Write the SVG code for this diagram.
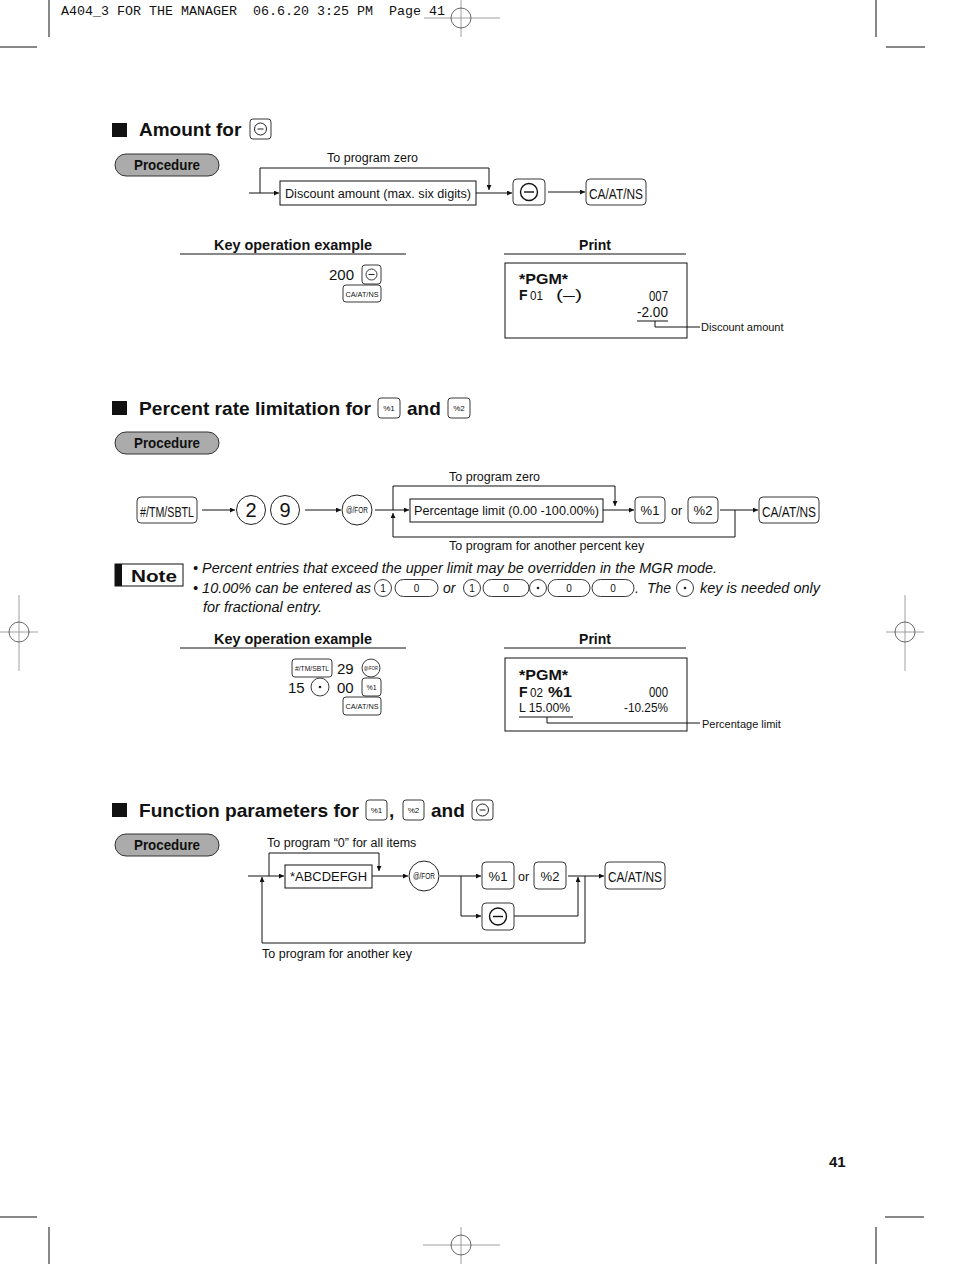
<svg xmlns="http://www.w3.org/2000/svg" width="954" height="1264" viewBox="0 0 954 1264">
<style>
text{font-family:"Liberation Sans",Arial,sans-serif;fill:#111}
.t{font-size:12.5px}
.h{font-size:19px;font-weight:bold}
.b{font-size:14px;font-weight:bold}
.it{font-size:14px;font-style:italic}
.k{fill:#fff;stroke:#222;stroke-width:0.9}
.ln{fill:none;stroke:#111;stroke-width:1}
.bx{fill:#fff;stroke:#111;stroke-width:1}
.pill{fill:#ababab;stroke:#333;stroke-width:1}
.reg{stroke:#888;stroke-width:0.8;fill:none}
.regc{stroke:#444;stroke-width:0.8;fill:none}
.crop{stroke:#111;stroke-width:1}
</style>
<defs>
<marker id="ah" viewBox="0 0 10 10" refX="10" refY="5" markerWidth="7" markerHeight="5" orient="auto" markerUnits="userSpaceOnUse"><path d="M0,0 L10,5 L0,10 z" fill="#111"/></marker>
</defs>

<!-- page marks -->
<g id="marks">
<text x="61" y="15" xml:space="preserve" style="font-family:'Liberation Mono',monospace;font-size:13px;white-space:pre" textLength="384" lengthAdjust="spacingAndGlyphs">A404_3 FOR THE MANAGER  06.6.20 3:25 PM  Page 41</text>
<line class="crop" x1="49" y1="0" x2="49" y2="37"/>
<line class="crop" x1="0" y1="47" x2="37" y2="47"/>
<line class="crop" x1="876" y1="0" x2="876" y2="37"/>
<line class="crop" x1="886" y1="47" x2="925" y2="47"/>
<line class="crop" x1="0" y1="1217" x2="37" y2="1217"/>
<line class="crop" x1="49" y1="1227" x2="49" y2="1264"/>
<line class="crop" x1="885" y1="1217" x2="924" y2="1217"/>
<line class="crop" x1="876" y1="1227" x2="876" y2="1264"/>
<line class="reg" x1="424" y1="18" x2="500" y2="18"/><line class="reg" x1="461" y1="0" x2="461" y2="37"/><circle class="regc" cx="461" cy="18" r="10"/>
<line class="reg" x1="0" y1="632" x2="38" y2="632"/><line class="reg" x1="19" y1="595" x2="19" y2="671"/><circle class="regc" cx="19" cy="632" r="10"/>
<line class="reg" x1="886" y1="632" x2="924" y2="632"/><line class="reg" x1="905" y1="595" x2="905" y2="671"/><circle class="regc" cx="905" cy="632" r="10"/>
<line class="reg" x1="423" y1="1245" x2="500" y2="1245"/><line class="reg" x1="461" y1="1227" x2="461" y2="1264"/><circle class="regc" cx="461" cy="1245" r="10"/>
<text x="829" y="1167" style="font-size:15px;font-weight:bold">41</text>
</g>

<!-- Section 1 -->
<g id="sec1-title">
<rect x="112" y="123" width="15" height="14" fill="#111"/>
<text class="h" x="139" y="136">Amount for</text>
<rect class="k" x="250" y="119" width="21" height="20" rx="3"/>
<circle cx="260.5" cy="129" r="6" fill="none" stroke="#222" stroke-width="1"/><line x1="257.5" y1="129" x2="263.5" y2="129" stroke="#222"/>
</g>
<g id="sec1-procedure">
<rect class="pill" x="115" y="154" width="104" height="22" rx="11"/>
<text x="167" y="170" text-anchor="middle" style="font-size:14px;font-weight:bold" textLength="66" lengthAdjust="spacingAndGlyphs">Procedure</text>
</g>
<g id="n1-discount">
<rect class="bx" x="280" y="181" width="196" height="24"/>
<text class="t" x="285" y="198" textLength="186" lengthAdjust="spacingAndGlyphs">Discount amount (max. six digits)</text>
</g>
<g id="n1-minus">
<rect class="k" x="513" y="179" width="32" height="26" rx="4"/>
<circle cx="529" cy="192" r="8.5" fill="none" stroke="#111" stroke-width="1.4"/><line x1="524" y1="192" x2="534" y2="192" stroke="#111" stroke-width="1.4"/>
</g>
<g id="n1-ca">
<rect class="k" x="586" y="179" width="60" height="26" rx="4"/>
<text x="616" y="199" text-anchor="middle" style="font-size:15px" textLength="54" lengthAdjust="spacingAndGlyphs">CA/AT/NS</text>
</g>
<g id="sec1-connectors">
<path class="ln" d="M249,193 H279" marker-end="url(#ah)"/>
<path class="ln" d="M260,193 V168 H489 V190" marker-end="url(#ah)"/>
<path class="ln" d="M476,193 H512" marker-end="url(#ah)"/>
<path class="ln" d="M548,192 H585" marker-end="url(#ah)"/>
<text class="t" x="327" y="162">To program zero</text>
</g>
<g id="sec1-example">
<text class="b" x="293" y="250" text-anchor="middle" textLength="158" lengthAdjust="spacingAndGlyphs">Key operation example</text>
<line class="ln" x1="180" y1="254" x2="406" y2="254"/>
<text class="b" x="595" y="250" text-anchor="middle">Print</text>
<line class="ln" x1="504" y1="254" x2="686" y2="254"/>
<text x="329" y="280" style="font-size:15px">200</text>
<rect class="k" x="362" y="265" width="19" height="19" rx="3"/>
<circle cx="371.5" cy="274.5" r="5.5" fill="none" stroke="#222" stroke-width="0.9"/><line x1="368.5" y1="274.5" x2="374.5" y2="274.5" stroke="#222"/>
<rect class="k" x="343" y="285" width="38" height="17" rx="3"/>
<text x="362" y="297" text-anchor="middle" style="font-size:8px" textLength="33" lengthAdjust="spacingAndGlyphs">CA/AT/NS</text>
</g>
<g id="sec1-print">
<rect class="bx" x="505" y="263" width="182" height="75"/>
<text x="519" y="284" style="font-size:15px;font-weight:bold" textLength="49" lengthAdjust="spacingAndGlyphs">*PGM*</text>
<text x="519" y="300" style="font-size:14px;font-weight:bold">F</text>
<text x="530" y="300" style="font-size:13px" textLength="13" lengthAdjust="spacingAndGlyphs">01</text>
<text x="556" y="300" style="font-size:14px" textLength="26" lengthAdjust="spacingAndGlyphs">(–)</text>
<text x="668" y="301" text-anchor="end" style="font-size:14px" textLength="19" lengthAdjust="spacingAndGlyphs">007</text>
<text x="668" y="317" text-anchor="end" style="font-size:14px" textLength="31" lengthAdjust="spacingAndGlyphs">-2.00</text>
<line class="ln" x1="637" y1="321" x2="668" y2="321"/>
<path class="ln" d="M655,321 V327 H700"/>
<text x="701" y="331" style="font-size:11px">Discount amount</text>
</g>

<!-- Section 2 -->
<g id="sec2-title">
<rect x="112" y="401" width="15" height="14" fill="#111"/>
<text class="h" x="139" y="415" textLength="232" lengthAdjust="spacingAndGlyphs">Percent rate limitation for</text>
<rect class="k" x="378" y="398" width="22" height="20" rx="3"/>
<text x="389" y="411" text-anchor="middle" style="font-size:8px">%1</text>
<text class="h" x="407" y="415">and</text>
<rect class="k" x="448" y="398" width="22" height="20" rx="3"/>
<text x="459" y="411" text-anchor="middle" style="font-size:8px">%2</text>
</g>
<g id="sec2-procedure">
<rect class="pill" x="115" y="432" width="104" height="22" rx="11"/>
<text x="167" y="448" text-anchor="middle" style="font-size:14px;font-weight:bold" textLength="66" lengthAdjust="spacingAndGlyphs">Procedure</text>
</g>
<g id="n2-tm">
<rect class="k" x="137" y="497" width="60" height="26" rx="4"/>
<text x="167" y="517" text-anchor="middle" style="font-size:15px" textLength="54" lengthAdjust="spacingAndGlyphs">#/TM/SBTL</text>
</g>
<g id="n2-2">
<circle cx="251" cy="510" r="14.5" fill="#fff" stroke="#222"/>
<text x="251" y="517" text-anchor="middle" style="font-size:20px">2</text>
</g>
<g id="n2-9">
<circle cx="285" cy="510" r="14.5" fill="#fff" stroke="#222"/>
<text x="285" y="517" text-anchor="middle" style="font-size:20px">9</text>
</g>
<g id="n2-for">
<circle cx="357" cy="510" r="15" fill="#fff" stroke="#222"/>
<text x="357" y="513" text-anchor="middle" style="font-size:9px" textLength="22" lengthAdjust="spacingAndGlyphs">@/FOR</text>
</g>
<g id="n2-limit">
<rect class="bx" x="410" y="499" width="193" height="23"/>
<text class="t" x="414" y="515" textLength="185" lengthAdjust="spacingAndGlyphs">Percentage limit (0.00 -100.00%)</text>
</g>
<g id="n2-p1">
<rect class="k" x="635" y="497" width="30" height="26" rx="4"/>
<text x="650" y="515" text-anchor="middle" style="font-size:13px">%1</text>
</g>
<text class="t" x="671" y="515">or</text>
<g id="n2-p2">
<rect class="k" x="688" y="497" width="30" height="26" rx="4"/>
<text x="703" y="515" text-anchor="middle" style="font-size:13px">%2</text>
</g>
<g id="n2-ca">
<rect class="k" x="759" y="497" width="60" height="26" rx="4"/>
<text x="789" y="517" text-anchor="middle" style="font-size:15px" textLength="54" lengthAdjust="spacingAndGlyphs">CA/AT/NS</text>
</g>
<g id="sec2-connectors">
<path class="ln" d="M202,510 H235" marker-end="url(#ah)"/>
<path class="ln" d="M305,510 H341" marker-end="url(#ah)"/>
<path class="ln" d="M375,510 H409" marker-end="url(#ah)"/>
<path class="ln" d="M393,510 V486 H615 V506" marker-end="url(#ah)"/>
<path class="ln" d="M603,510 H634" marker-end="url(#ah)"/>
<path class="ln" d="M720,510 H758" marker-end="url(#ah)"/>
<path class="ln" d="M735,510 V537 H393 V513" marker-end="url(#ah)"/>
<text class="t" x="449" y="481">To program zero</text>
<text class="t" x="449" y="550">To program for another percent key</text>
</g>

<!-- Note -->
<g id="note">
<rect class="bx" x="115" y="564" width="68" height="22"/>
<rect x="115" y="564" width="7" height="22" fill="#111"/>
<text x="131" y="582" style="font-size:17px;font-weight:bold" textLength="46" lengthAdjust="spacingAndGlyphs">Note</text>
<text class="it" x="193" y="573" textLength="524" lengthAdjust="spacingAndGlyphs">• Percent entries that exceed the upper limit may be overridden in the MGR mode.</text>
<text class="it" x="193" y="593" textLength="178" lengthAdjust="spacingAndGlyphs">• 10.00% can be entered as</text>
<circle cx="383" cy="588" r="8.5" fill="#fff" stroke="#222" stroke-width="0.9"/><text x="383" y="592" text-anchor="middle" style="font-size:10px">1</text>
<rect class="k" x="395" y="579.5" width="43" height="17" rx="8.5"/><text x="416.5" y="592" text-anchor="middle" style="font-size:10px">0</text>
<text class="it" x="443" y="593">or</text>
<circle cx="472" cy="588" r="8.5" fill="#fff" stroke="#222" stroke-width="0.9"/><text x="472" y="592" text-anchor="middle" style="font-size:10px">1</text>
<rect class="k" x="483" y="579.5" width="46" height="17" rx="8.5"/><text x="506" y="592" text-anchor="middle" style="font-size:10px">0</text>
<circle cx="538" cy="588" r="8.5" fill="#fff" stroke="#222" stroke-width="0.9"/><circle cx="538" cy="588" r="1.3" fill="#222"/>
<rect class="k" x="548" y="579.5" width="42" height="17" rx="8.5"/><text x="569" y="592" text-anchor="middle" style="font-size:10px">0</text>
<rect class="k" x="592" y="579.5" width="42" height="17" rx="8.5"/><text x="613" y="592" text-anchor="middle" style="font-size:10px">0</text>
<text class="it" x="635" y="593">.</text>
<text class="it" x="647" y="593">The</text>
<circle cx="685" cy="588" r="8.5" fill="#fff" stroke="#222" stroke-width="0.9"/><circle cx="685" cy="588" r="1.3" fill="#222"/>
<text class="it" x="700" y="593" textLength="120" lengthAdjust="spacingAndGlyphs">key is needed only</text>
<text class="it" x="203" y="612" textLength="119" lengthAdjust="spacingAndGlyphs">for fractional entry.</text>
</g>

<g id="sec2-example">
<text class="b" x="293" y="644" text-anchor="middle" textLength="158" lengthAdjust="spacingAndGlyphs">Key operation example</text>
<line class="ln" x1="180" y1="648" x2="406" y2="648"/>
<text class="b" x="595" y="644" text-anchor="middle">Print</text>
<line class="ln" x1="504" y1="648" x2="686" y2="648"/>
<rect class="k" x="292" y="659" width="40" height="18" rx="3"/>
<text x="312" y="671" text-anchor="middle" style="font-size:8px" textLength="34" lengthAdjust="spacingAndGlyphs">#/TM/SBTL</text>
<text x="337" y="674" style="font-size:15px">29</text>
<circle cx="371" cy="668" r="9" fill="#fff" stroke="#222" stroke-width="0.9"/>
<text x="371" y="670" text-anchor="middle" style="font-size:6px" textLength="14" lengthAdjust="spacingAndGlyphs">@/FOR</text>
<text x="288" y="693" style="font-size:15px">15</text>
<circle cx="320" cy="687" r="9" fill="#fff" stroke="#222" stroke-width="0.9"/><circle cx="320" cy="687" r="1.3" fill="#222"/>
<text x="337" y="693" style="font-size:15px">00</text>
<rect class="k" x="362" y="678" width="19" height="18" rx="3"/>
<text x="371.5" y="690" text-anchor="middle" style="font-size:7px">%1</text>
<rect class="k" x="343" y="697" width="38" height="18" rx="3"/>
<text x="362" y="709" text-anchor="middle" style="font-size:8px" textLength="33" lengthAdjust="spacingAndGlyphs">CA/AT/NS</text>
</g>
<g id="sec2-print">
<rect class="bx" x="505" y="658" width="182" height="73"/>
<text x="519" y="680" style="font-size:15px;font-weight:bold" textLength="49" lengthAdjust="spacingAndGlyphs">*PGM*</text>
<text x="519" y="697" style="font-size:14px;font-weight:bold">F</text>
<text x="530" y="697" style="font-size:13px" textLength="13" lengthAdjust="spacingAndGlyphs">02</text>
<text x="548" y="697" style="font-size:14px;font-weight:bold" textLength="24" lengthAdjust="spacingAndGlyphs">%1</text>
<text x="668" y="697" text-anchor="end" style="font-size:14px" textLength="19" lengthAdjust="spacingAndGlyphs">000</text>
<text x="519" y="712" style="font-size:13px" textLength="51" lengthAdjust="spacingAndGlyphs">L 15.00%</text>
<text x="668" y="712" text-anchor="end" style="font-size:13px" textLength="44" lengthAdjust="spacingAndGlyphs">-10.25%</text>
<line class="ln" x1="519" y1="717" x2="573" y2="717"/>
<path class="ln" d="M547,717 V723 H700"/>
<text x="702" y="728" style="font-size:11px">Percentage limit</text>
</g>

<!-- Section 3 -->
<g id="sec3-title">
<rect x="112" y="803" width="15" height="14" fill="#111"/>
<text class="h" x="139" y="817" textLength="220" lengthAdjust="spacingAndGlyphs">Function parameters for</text>
<rect class="k" x="366" y="800" width="21" height="20" rx="3"/>
<text x="376.5" y="813" text-anchor="middle" style="font-size:8px">%1</text>
<text class="h" x="389" y="817">,</text>
<rect class="k" x="403" y="800" width="21" height="20" rx="3"/>
<text x="413.5" y="813" text-anchor="middle" style="font-size:8px">%2</text>
<text class="h" x="431" y="817">and</text>
<rect class="k" x="472" y="800" width="21" height="20" rx="3"/>
<circle cx="482.5" cy="810" r="6" fill="none" stroke="#222" stroke-width="1"/><line x1="479.5" y1="810" x2="485.5" y2="810" stroke="#222"/>
</g>
<g id="sec3-procedure">
<rect class="pill" x="115" y="834" width="104" height="22" rx="11"/>
<text x="167" y="850" text-anchor="middle" style="font-size:14px;font-weight:bold" textLength="66" lengthAdjust="spacingAndGlyphs">Procedure</text>
</g>
<g id="n3-abc">
<rect class="bx" x="285" y="865" width="87" height="23"/>
<text class="t" x="290" y="881" textLength="77" lengthAdjust="spacingAndGlyphs">*ABCDEFGH</text>
</g>
<g id="n3-for">
<circle cx="424" cy="876" r="15" fill="#fff" stroke="#222"/>
<text x="424" y="879" text-anchor="middle" style="font-size:9px" textLength="22" lengthAdjust="spacingAndGlyphs">@/FOR</text>
</g>
<g id="n3-p1">
<rect class="k" x="482" y="862" width="32" height="27" rx="4"/>
<text x="498" y="881" text-anchor="middle" style="font-size:13px">%1</text>
</g>
<text class="t" x="518" y="881">or</text>
<g id="n3-p2">
<rect class="k" x="534" y="862" width="32" height="27" rx="4"/>
<text x="550" y="881" text-anchor="middle" style="font-size:13px">%2</text>
</g>
<g id="n3-minus">
<rect class="k" x="482" y="903" width="32" height="27" rx="4"/>
<circle cx="498" cy="916.5" r="8.5" fill="none" stroke="#111" stroke-width="1.4"/><line x1="493" y1="916.5" x2="503" y2="916.5" stroke="#111" stroke-width="1.4"/>
</g>
<g id="n3-ca">
<rect class="k" x="605" y="862" width="60" height="27" rx="4"/>
<text x="635" y="882" text-anchor="middle" style="font-size:15px" textLength="54" lengthAdjust="spacingAndGlyphs">CA/AT/NS</text>
</g>
<g id="sec3-connectors">
<path class="ln" d="M248,876 H284" marker-end="url(#ah)"/>
<path class="ln" d="M269,876 V853 H379 V871" marker-end="url(#ah)"/>
<path class="ln" d="M372,876 H408" marker-end="url(#ah)"/>
<path class="ln" d="M440,876 H481" marker-end="url(#ah)"/>
<path class="ln" d="M461,876 V916 H481" marker-end="url(#ah)"/>
<path class="ln" d="M514,916 H578 V877" marker-end="url(#ah)"/>
<path class="ln" d="M568,876 H604" marker-end="url(#ah)"/>
<path class="ln" d="M585,876 V943 H262 V877" marker-end="url(#ah)"/>
<text class="t" x="267" y="847">To program “0” for all items</text>
<text class="t" x="262" y="958">To program for another key</text>
</g>
</svg>
